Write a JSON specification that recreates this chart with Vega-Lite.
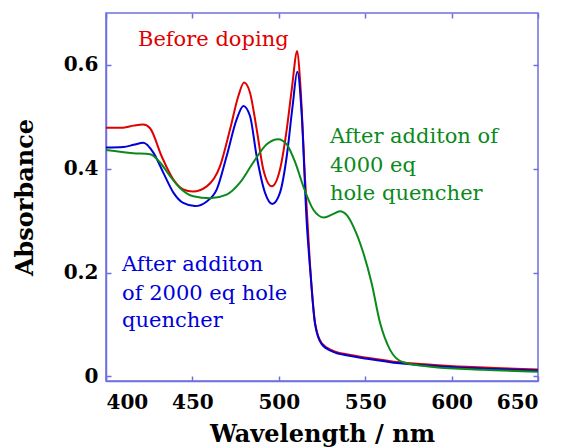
{
  "$schema": "https://vega.github.io/schema/vega-lite/v6.json",
  "width": 432,
  "height": 368,
  "autosize": {"type": "none"},
  "padding": {"left": 106, "top": 13, "right": 23, "bottom": 67},
  "config": {
    "view": {"stroke": "#6f6fe0", "strokeWidth": 1.5},
    "axis": {
      "domainColor": "#6f6fe0", "tickColor": "#6f6fe0", "domainWidth": 1.5, "tickWidth": 1.5,
      "grid": false, "labelFont": "DejaVu Serif", "labelFontWeight": "bold", "labelFontSize": 20,
      "labelColor": "#000", "titleFont": "DejaVu Serif", "titleFontWeight": "bold", "titleFontSize": 24, "titleColor": "#000"
    }
  },
  "datasets": {
    "spectra": [
      {"wl": 400, "abs": 0.479, "series": "before"},
      {"wl": 410, "abs": 0.479, "series": "before"},
      {"wl": 416, "abs": 0.483, "series": "before"},
      {"wl": 421.6, "abs": 0.485, "series": "before"},
      {"wl": 425.5, "abs": 0.478, "series": "before"},
      {"wl": 432.2, "abs": 0.424, "series": "before"},
      {"wl": 439, "abs": 0.379, "series": "before"},
      {"wl": 444.7, "abs": 0.360, "series": "before"},
      {"wl": 450.3, "abs": 0.356, "series": "before"},
      {"wl": 458.3, "abs": 0.366, "series": "before"},
      {"wl": 466, "abs": 0.405, "series": "before"},
      {"wl": 471.8, "abs": 0.476, "series": "before"},
      {"wl": 476.6, "abs": 0.540, "series": "before"},
      {"wl": 479.9, "abs": 0.566, "series": "before"},
      {"wl": 483.3, "abs": 0.547, "series": "before"},
      {"wl": 487.2, "abs": 0.476, "series": "before"},
      {"wl": 491, "abs": 0.399, "series": "before"},
      {"wl": 495.9, "abs": 0.366, "series": "before"},
      {"wl": 500.7, "abs": 0.399, "series": "before"},
      {"wl": 504.6, "abs": 0.476, "series": "before"},
      {"wl": 507.5, "abs": 0.553, "series": "before"},
      {"wl": 510.7, "abs": 0.627, "series": "before"},
      {"wl": 512.5, "abs": 0.560, "series": "before"},
      {"wl": 515.2, "abs": 0.379, "series": "before"},
      {"wl": 518, "abs": 0.218, "series": "before"},
      {"wl": 521, "abs": 0.103, "series": "before"},
      {"wl": 524.8, "abs": 0.064, "series": "before"},
      {"wl": 531.5, "abs": 0.049, "series": "before"},
      {"wl": 540, "abs": 0.042, "series": "before"},
      {"wl": 551, "abs": 0.036, "series": "before"},
      {"wl": 570, "abs": 0.027, "series": "before"},
      {"wl": 599, "abs": 0.020, "series": "before"},
      {"wl": 625, "abs": 0.016, "series": "before"},
      {"wl": 650, "abs": 0.013, "series": "before"},

      {"wl": 400, "abs": 0.441, "series": "q2000"},
      {"wl": 410, "abs": 0.442, "series": "q2000"},
      {"wl": 416, "abs": 0.446, "series": "q2000"},
      {"wl": 421.6, "abs": 0.450, "series": "q2000"},
      {"wl": 427.4, "abs": 0.431, "series": "q2000"},
      {"wl": 433.2, "abs": 0.392, "series": "q2000"},
      {"wl": 439, "abs": 0.354, "series": "q2000"},
      {"wl": 444.7, "abs": 0.334, "series": "q2000"},
      {"wl": 451.5, "abs": 0.328, "series": "q2000"},
      {"wl": 458.3, "abs": 0.337, "series": "q2000"},
      {"wl": 464.1, "abs": 0.360, "series": "q2000"},
      {"wl": 469.8, "abs": 0.424, "series": "q2000"},
      {"wl": 475.6, "abs": 0.495, "series": "q2000"},
      {"wl": 479.5, "abs": 0.521, "series": "q2000"},
      {"wl": 483.3, "abs": 0.502, "series": "q2000"},
      {"wl": 487.2, "abs": 0.424, "series": "q2000"},
      {"wl": 492, "abs": 0.354, "series": "q2000"},
      {"wl": 496.2, "abs": 0.332, "series": "q2000"},
      {"wl": 500.7, "abs": 0.354, "series": "q2000"},
      {"wl": 504.6, "abs": 0.424, "series": "q2000"},
      {"wl": 508, "abs": 0.521, "series": "q2000"},
      {"wl": 510.7, "abs": 0.587, "series": "q2000"},
      {"wl": 513.2, "abs": 0.508, "series": "q2000"},
      {"wl": 516.1, "abs": 0.300, "series": "q2000"},
      {"wl": 518.3, "abs": 0.200, "series": "q2000"},
      {"wl": 521, "abs": 0.100, "series": "q2000"},
      {"wl": 524.8, "abs": 0.062, "series": "q2000"},
      {"wl": 531.5, "abs": 0.047, "series": "q2000"},
      {"wl": 540, "abs": 0.040, "series": "q2000"},
      {"wl": 551, "abs": 0.034, "series": "q2000"},
      {"wl": 570, "abs": 0.025, "series": "q2000"},
      {"wl": 599, "abs": 0.018, "series": "q2000"},
      {"wl": 625, "abs": 0.014, "series": "q2000"},
      {"wl": 650, "abs": 0.011, "series": "q2000"},

      {"wl": 400, "abs": 0.436, "series": "q4000"},
      {"wl": 415.8, "abs": 0.430, "series": "q4000"},
      {"wl": 425.5, "abs": 0.428, "series": "q4000"},
      {"wl": 431.3, "abs": 0.412, "series": "q4000"},
      {"wl": 437, "abs": 0.386, "series": "q4000"},
      {"wl": 442.8, "abs": 0.363, "series": "q4000"},
      {"wl": 450.5, "abs": 0.347, "series": "q4000"},
      {"wl": 460.2, "abs": 0.343, "series": "q4000"},
      {"wl": 469.8, "abs": 0.350, "series": "q4000"},
      {"wl": 477.5, "abs": 0.373, "series": "q4000"},
      {"wl": 485.2, "abs": 0.412, "series": "q4000"},
      {"wl": 493, "abs": 0.447, "series": "q4000"},
      {"wl": 499.7, "abs": 0.457, "series": "q4000"},
      {"wl": 504.6, "abs": 0.447, "series": "q4000"},
      {"wl": 509.5, "abs": 0.412, "series": "q4000"},
      {"wl": 514.2, "abs": 0.366, "series": "q4000"},
      {"wl": 520, "abs": 0.321, "series": "q4000"},
      {"wl": 526.2, "abs": 0.306, "series": "q4000"},
      {"wl": 531, "abs": 0.312, "series": "q4000"},
      {"wl": 535.4, "abs": 0.318, "series": "q4000"},
      {"wl": 539.5, "abs": 0.310, "series": "q4000"},
      {"wl": 543.1, "abs": 0.289, "series": "q4000"},
      {"wl": 548.9, "abs": 0.238, "series": "q4000"},
      {"wl": 553.7, "abs": 0.180, "series": "q4000"},
      {"wl": 558.6, "abs": 0.103, "series": "q4000"},
      {"wl": 564.4, "abs": 0.051, "series": "q4000"},
      {"wl": 572, "abs": 0.027, "series": "q4000"},
      {"wl": 589.4, "abs": 0.018, "series": "q4000"},
      {"wl": 618.3, "abs": 0.0125, "series": "q4000"},
      {"wl": 650, "abs": 0.009, "series": "q4000"}
    ],
    "labels": [
      {"wl": 418.5, "abs": 0.648, "label": "Before doping", "series": "before"},
      {"wl": 529.6, "abs": 0.462, "label": "After additon of", "series": "q4000"},
      {"wl": 529.6, "abs": 0.406, "label": "4000 eq", "series": "q4000"},
      {"wl": 529.6, "abs": 0.352, "label": "hole quencher", "series": "q4000"},
      {"wl": 409.3, "abs": 0.215, "label": "After additon", "series": "q2000"},
      {"wl": 409.3, "abs": 0.159, "label": "of  2000 eq hole", "series": "q2000"},
      {"wl": 409.3, "abs": 0.107, "label": "quencher", "series": "q2000"}
    ]
  },
  "resolve": {"axis": {"x": "independent", "y": "independent"}},
  "layer": [
    {
      "data": {"name": "spectra"},
      "mark": {"type": "line", "strokeWidth": 2, "interpolate": "monotone"},
      "encoding": {
        "x": {"field": "wl", "type": "quantitative",
              "scale": {"domain": [400, 650], "nice": false, "zero": false},
              "axis": {"title": "Wavelength / nm", "values": [400, 450, 500, 550, 600, 650], "tickSize": -5, "labelPadding": 16, "titlePadding": 10}},
        "y": {"field": "abs", "type": "quantitative",
              "scale": {"domain": [-0.009, 0.7], "nice": false, "zero": false},
              "axis": {"title": "Absorbance", "values": [0, 0.2, 0.4, 0.6], "format": ".1~f", "tickSize": -5, "labelPadding": 13, "titlePadding": 26}},
        "color": {"field": "series", "type": "nominal",
                  "scale": {"domain": ["before", "q2000", "q4000"], "range": ["#e00000", "#0000d8", "#0a8a1a"]},
                  "legend": null},
        "order": {"field": "series", "sort": "descending"}
      }
    },
    {
      "data": {"name": "labels"},
      "mark": {"type": "text", "font": "DejaVu Serif", "fontSize": 21, "baseline": "middle", "align": "left"},
      "encoding": {
        "x": {"field": "wl", "type": "quantitative", "axis": {"orient": "top", "labels": false, "title": null, "values": [400, 450, 500, 550, 600, 650], "tickSize": -5, "domain": false}},
        "y": {"field": "abs", "type": "quantitative", "axis": {"orient": "right", "labels": false, "title": null, "values": [0, 0.2, 0.4, 0.6], "tickSize": -5, "domain": false}},
        "text": {"field": "label"},
        "color": {"field": "series", "type": "nominal",
                  "scale": {"domain": ["before", "q2000", "q4000"], "range": ["#e00000", "#0000d8", "#0a8a1a"]},
                  "legend": null}
      }
    }
  ]
}
